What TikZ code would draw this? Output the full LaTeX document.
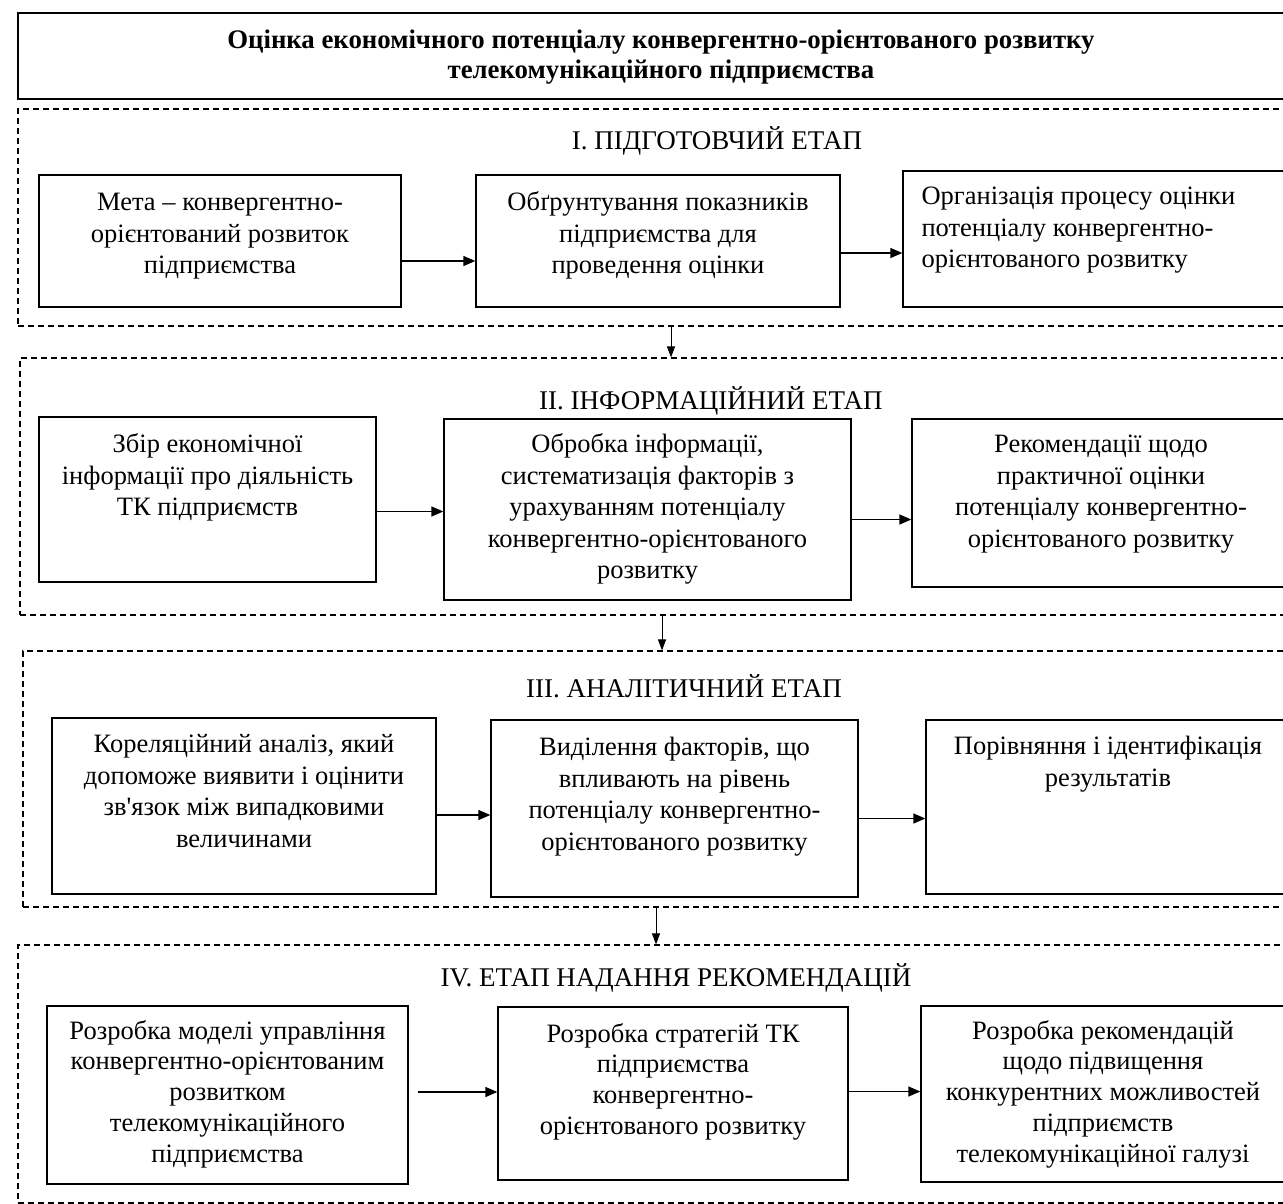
\documentclass[tikz,border=0pt]{standalone}
\usepackage{fontspec}
\setmainfont{Liberation Serif}
\usetikzlibrary{arrows.meta,fit}
\begin{document}
\begin{tikzpicture}[x=1pt,y=-1pt,
  box/.style={draw, line width=1.3pt, inner sep=0pt},
  frame/.style={draw, line width=1.1pt, dash pattern=on 6pt off 4pt, inner sep=0pt},
  txt/.style={inner sep=0pt, align=center, font=\fontsize{26.5}{31.5}\selectfont},
  ltxt/.style={inner sep=0pt, align=left, font=\fontsize{26.5}{31.5}\selectfont},
  stitle/.style={inner sep=0pt, font=\fontsize{27}{31}\selectfont},
  arr/.style={line width=1.3pt, -{Triangle[length=12pt,width=10pt]}},
  varr/.style={line width=1pt, -{Triangle[length=11pt,width=8pt]}}]
\useasboundingbox (0,0) rectangle (1283,1204);
\clip (0,0) rectangle (1283,1204);
% title
\node[box, fit={(18,13) (1300,99)}] (title) {};
\node[inner sep=0pt, align=center, font=\fontsize{26.8}{30}\selectfont\bfseries] (titletext) at (661,57) {Оцінка економічного потенціалу конвергентно-орієнтованого розвитку\\телекомунікаційного підприємства};
% frames
\node[frame, fit={(18,109) (1300,326)}] (f1) {};
\node[frame, fit={(20,358) (1300,615)}] (f2) {};
\node[frame, fit={(23,651) (1300,907)}] (f3) {};
\node[frame, fit={(18,945) (1300,1203)}] (f4) {};
\node[stitle] (t1) at (717,141) {I. ПІДГОТОВЧИЙ ЕТАП};
\node[stitle] (t2) at (711,401) {II. ІНФОРМАЦІЙНИЙ ЕТАП};
\node[stitle] (t3) at (684,686) {III. АНАЛІТИЧНИЙ ЕТАП};
\node[stitle] (t4) at (676,978) {IV. ЕТАП НАДАННЯ РЕКОМЕНДАЦІЙ};
% stage 1
\node[box, fit={(39,175) (401,307)}] (a1) {};
\node[box, fit={(476,175) (840,307)}] (a2) {};
\node[box, fit={(903,171) (1300,307)}] (a3) {};
\node[txt, anchor=north] (a1t) at ([yshift=-14pt]a1.north) {\strut Мета – конвергентно-\\орієнтований розвиток\\підприємства};
\node[txt, anchor=north] (a2t) at ([yshift=-14pt]a2.north) {\strut Обґрунтування показників\\підприємства для\\проведення оцінки};
\node[ltxt, anchor=north west] (a3t) at ([xshift=19pt,yshift=-12pt]a3.north west) {\strut Організація процесу оцінки\\потенціалу конвергентно-\\орієнтованого розвитку};
\draw[arr] ([yshift=-20pt]a1.east) -- ([yshift=-20pt]a1.east -| a2.west);
\draw[arr] ([yshift=-12pt]a2.east) -- ([yshift=-12pt]a2.east -| a3.west);
% stage 2
\node[box, fit={(39,417) (376,582)}] (b1) {};
\node[box, fit={(444,419) (851,600)}] (b2) {};
\node[box, fit={(912,419) (1290,587)}] (b3) {};
\node[txt, anchor=north] (b1t) at ([yshift=-14pt]b1.north) {\strut Збір економічної\\інформації про діяльність\\ТК підприємств};
\node[txt, anchor=north] (b2t) at ([yshift=-12pt]b2.north) {\strut Обробка інформації,\\систематизація факторів з\\урахуванням потенціалу\\конвергентно-орієнтованого\\розвитку};
\node[txt, anchor=north] (b3t) at ([yshift=-12pt]b3.north) {\strut Рекомендації щодо\\практичної оцінки\\потенціалу конвергентно-\\орієнтованого розвитку};
\draw[arr] ([yshift=-12pt]b1.east) -- ([yshift=-12pt]b1.east -| b2.west);
\draw[arr] ([yshift=-10pt]b2.east) -- ([yshift=-10pt]b2.east -| b3.west);
% stage 3
\node[box, fit={(52,718) (436,894)}] (c1) {};
\node[box, fit={(491,720) (858,897)}] (c2) {};
\node[box, fit={(926,720) (1290,894)}] (c3) {};
\node[txt, anchor=north] (c1t) at ([yshift=-13pt]c1.north) {\strut Кореляційний аналіз, який\\допоможе виявити і оцінити\\зв\textquotesingle язок між випадковими\\величинами};
\node[txt, anchor=north] (c2t) at ([yshift=-14pt]c2.north) {\strut Виділення факторів, що\\впливають на рівень\\потенціалу конвергентно-\\орієнтованого розвитку};
\node[txt, anchor=north] (c3t) at ([yshift=-13pt]c3.north) {\strut Порівняння і ідентифікація\\результатів};
\draw[arr] ([yshift=-9pt]c1.east) -- ([yshift=-9pt]c1.east -| c2.west);
\draw[arr] ([yshift=-10pt]c2.east) -- ([yshift=-10pt]c2.east -| c3.west);
% stage 4
\node[box, fit={(47,1006) (408,1184)}] (d1) {};
\node[box, fit={(498,1007) (848,1180)}] (d2) {};
\node[box, fit={(921,1006) (1285,1182)}] (d3) {};
\node[txt, anchor=north, font=\fontsize{26.5}{30.8}\selectfont] (d1t) at ([yshift=-12pt]d1.north) {\strut Розробка моделі управління\\конвергентно-орієнтованим\\розвитком\\телекомунікаційного\\підприємства};
\node[txt, anchor=north, font=\fontsize{26.5}{30.8}\selectfont] (d2t) at ([yshift=-14pt]d2.north) {\strut Розробка стратегій ТК\\підприємства\\конвергентно-\\орієнтованого розвитку};
\node[txt, anchor=north, font=\fontsize{26.5}{30.8}\selectfont] (d3t) at ([yshift=-12pt]d3.north) {\strut Розробка рекомендацій\\щодо підвищення\\конкурентних можливостей\\підприємств\\телекомунікаційної галузі};
\draw[arr, shorten <=9pt] ([yshift=3pt]d1.east) -- ([yshift=3pt]d1.east -| d2.west);
\draw[arr] ([yshift=2pt]d2.east) -- ([yshift=2pt]d2.east -| d3.west);
% vertical arrows
\coordinate (v1) at (671,0);
\coordinate (v2) at (662,0);
\coordinate (v3) at (656,0);
\draw[varr] (f1.south -| v1) -- (f2.north -| v1);
\draw[varr] (f2.south -| v2) -- (f3.north -| v2);
\draw[varr] (f3.south -| v3) -- (f4.north -| v3);
\end{tikzpicture}
\end{document}
